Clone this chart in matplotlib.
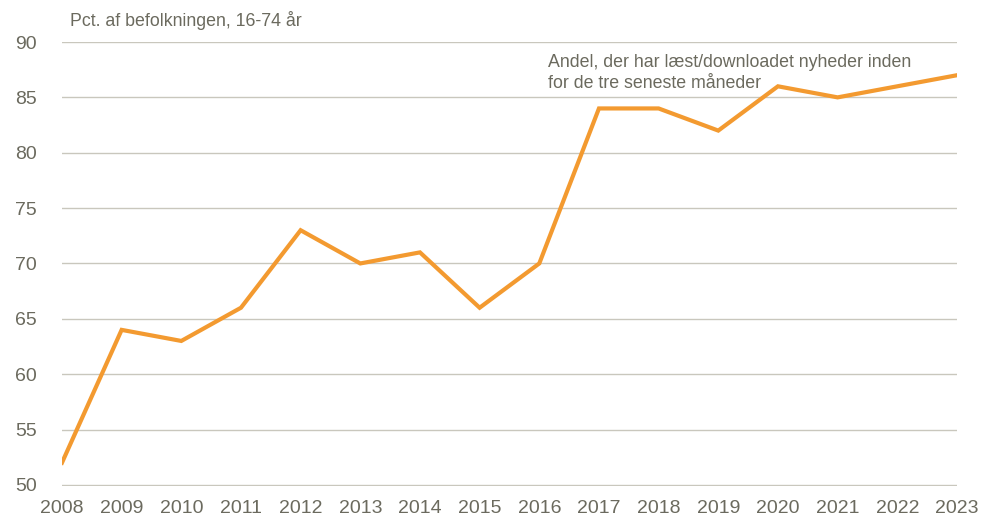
import matplotlib.pyplot as plt

plt.rcParams['font.family'] = ['Liberation Sans', 'DejaVu Sans']

# Andel af befolkningen der har læst/downloadet nyheder online
years = list(range(2008, 2024))
share = [52, 64, 63, 66, 73, 70, 71, 66, 70, 84, 84, 82, 86, 85, 86, 87]
y_ticks = [50, 55, 60, 65, 70, 75, 80, 85, 90]

text_col = '#6b6a5e'
grid_col = '#c9c7bd'
line_col = '#f39a30'

fig = plt.figure(figsize=(9.9, 5.22), dpi=100)
ax = fig.add_axes([0.0626, 0.069, 0.904, 0.8505])

ax.plot(years, share, color=line_col, linewidth=3.0, solid_joinstyle='miter')

ax.set_xlim(2008, 2023)
ax.set_ylim(49.9, 90)
ax.set_xticks(years)
ax.set_yticks(y_ticks)
ax.grid(axis='y', color=grid_col, linewidth=1.0)
ax.set_axisbelow(True)
for s in ax.spines.values():
    s.set_visible(False)
ax.tick_params(length=0, labelsize=14, colors=text_col)
ax.tick_params(axis='y', pad=18)
ax.tick_params(axis='x', pad=10)

fig.text(70 / 990, 1 - 20 / 522, 'Pct. af befolkningen, 16-74 år',
         fontsize=12.8, color=text_col, va='center', ha='left')
ax.text(2016.15, 88.95, 'Andel, der har læst/downloadet nyheder inden\nfor de tre seneste måneder',
        fontsize=12.8, color=text_col, va='top', ha='left', linespacing=1.35)

fig.savefig('out.png', dpi=100)
